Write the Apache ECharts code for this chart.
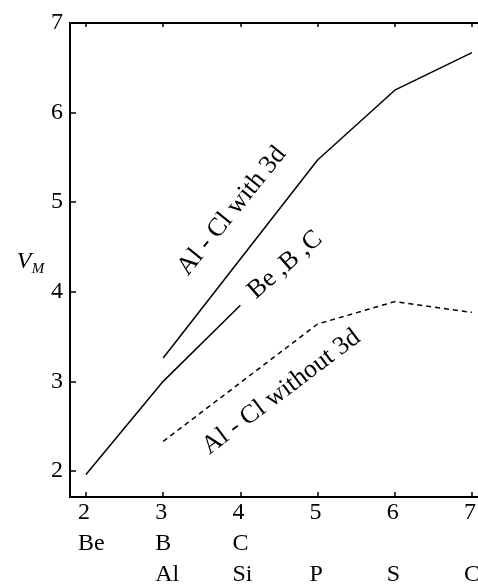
<!DOCTYPE html>
<html>
<head>
<meta charset="utf-8">
<script src="https://cdn.jsdelivr.net/npm/echarts@6/dist/echarts.min.js"></script>
<style>
  html, body { margin: 0; padding: 0; background: #fff; overflow: hidden; }
  #chart { width: 478px; height: 584px; }
</style>
</head>
<body>
<div id="chart"></div>
<script>
// x ticks and the element rows under them
const xTicks = [2, 3, 4, 5, 6, 7]
const elemRow1 = ['Be', 'B', 'C', '', '', '']
const elemRow2 = ['', 'Al', 'Si', 'P', 'S', 'Cl']
const yTicks = [2, 3, 4, 5, 6, 7]

// series
const beBCx = [2, 3, 4]
const beBCy = [1.96, 3.0, 3.85]
const with3dX = [3, 5, 6, 7]
const with3dY = [3.26, 5.47, 6.25, 6.67]
const without3dX = [3, 5, 6, 7]
const without3dY = [2.33, 3.64, 3.89, 3.77]

// curve labels: text, x, y (data units), angle (deg)
const noteText = ['Al - Cl with 3d', 'Be ,B ,C', 'Al - Cl without 3d']
const noteX = [3.89, 4.58, 4.53]
const noteY = [4.90, 4.30, 2.88]
const noteAngle = [51, 41, 37]

const FONT = '"Liberation Serif", "Times New Roman", serif'

const chart = echarts.init(document.getElementById('chart'), null, { width: 478, height: 584 })

const pairs = (xs, ys) => xs.map((x, i) => [x, ys[i]])

const option = {
  animation: false,
  backgroundColor: '#fff',
  grid: { left: 70, right: 0, top: 23, bottom: 87, containLabel: false, outerBoundsMode: 'none' },
  xAxis: [
    {
      type: 'value',
      min: 1.793,
      max: 7.078,
      position: 'bottom',
      splitLine: { show: false },
      axisLine: { show: true, lineStyle: { color: '#000', width: 2 } },
      axisTick: { show: true, inside: true, length: 5, customValues: xTicks, lineStyle: { color: '#000', width: 1.5 } },
      axisLabel: {
        show: true,
        customValues: xTicks,
        color: '#000',
        fontFamily: FONT,
        fontSize: 24,
        lineHeight: 31,
        align: 'left',
        margin: 0,
        padding: [0, 0, 0, -8],
        formatter: v => {
          const i = xTicks.indexOf(v)
          return [String(v), elemRow1[i], elemRow2[i]].join('\n')
        },
      },
    },
    {
      type: 'value',
      min: 1.793,
      max: 7.078,
      position: 'top',
      splitLine: { show: false },
      axisLine: { show: true, lineStyle: { color: '#000', width: 2 } },
      axisTick: { show: true, inside: true, length: 4, customValues: xTicks, lineStyle: { color: '#000', width: 1.5 } },
      axisLabel: { show: false },
    },
  ],
  yAxis: {
    type: 'value',
    min: 1.709,
    max: 7,
    splitLine: { show: false },
    axisLine: { show: true, lineStyle: { color: '#000', width: 2 } },
    axisTick: { show: true, inside: true, length: 6, customValues: yTicks, lineStyle: { color: '#000', width: 1.5 } },
    axisLabel: {
      customValues: yTicks,
      color: '#000',
      fontFamily: FONT,
      fontSize: 24,
      margin: 7,
    },
  },
  series: [
    {
      name: 'Be ,B ,C',
      type: 'line',
      data: pairs(beBCx, beBCy),
      symbol: 'none',
      lineStyle: { color: '#000', width: 1.5 },
    },
    {
      name: 'Al - Cl with 3d',
      type: 'line',
      data: pairs(with3dX, with3dY),
      symbol: 'none',
      lineStyle: { color: '#000', width: 1.5 },
    },
    {
      name: 'Al - Cl without 3d',
      type: 'line',
      data: pairs(without3dX, without3dY),
      symbol: 'none',
      lineStyle: { color: '#000', width: 1.5, type: [5, 4] },
    },
  ],
}

chart.setOption(option)

// rotated curve labels + axis name
const graphics = noteText.map((t, i) => {
  const p = chart.convertToPixel({ gridIndex: 0 }, [noteX[i], noteY[i]])
  return {
    type: 'text',
    x: p[0],
    y: p[1],
    rotation: noteAngle[i] * Math.PI / 180,
    style: {
      text: t,
      fill: '#000',
      font: `26px ${FONT}`,
      align: 'center',
      verticalAlign: 'middle',
    },
  }
})
graphics.push(
  { type: 'text', x: 24, y: 262, style: { text: 'V', fill: '#000', font: `italic 24px ${FONT}`, align: 'center', verticalAlign: 'middle' } },
  { type: 'text', x: 38, y: 269, style: { text: 'M', fill: '#000', font: `italic 15px ${FONT}`, align: 'center', verticalAlign: 'middle' } }
)

chart.setOption({ graphic: graphics })
</script>
</body>
</html>
